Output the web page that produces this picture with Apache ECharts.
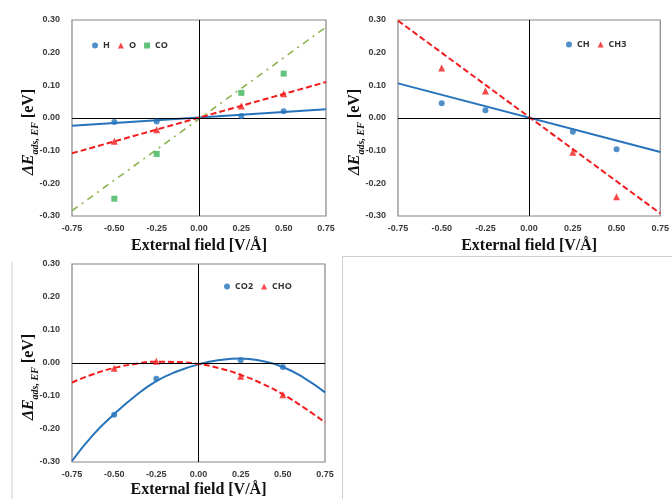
<!DOCTYPE html>
<html><head><meta charset="utf-8">
<script src="https://cdn.jsdelivr.net/npm/echarts@6/dist/echarts.min.js"></script>
<style>html,body{margin:0;padding:0;background:#fff}#c{width:672px;height:499px}</style>
</head><body><div id="c"></div>
<script>
// ---- data ----
const xPts = [-0.5, -0.25, 0.25, 0.5];
const xEnds = [-0.75, 0.75];
const yTicks = [-0.30, -0.20, -0.10, 0.00, 0.10, 0.20, 0.30];
const xTicks = [-0.75, -0.50, -0.25, 0.00, 0.25, 0.50, 0.75];
// panel 1
const H = [-0.012, -0.011, 0.006, 0.021];
const O = [-0.071, -0.036, 0.037, 0.074];
const CO = [-0.247, -0.110, 0.077, 0.136];
const H_fit = [-0.024, 0.027];
const O_fit = [-0.108, 0.110];
const CO_fit = [-0.284, 0.278];
// panel 2
const CH = [0.045, 0.024, -0.042, -0.096];
const CH3 = [0.153, 0.083, -0.105, -0.241];
const CH_fit = [0.106, -0.104];
const CH3_fit = [0.298, -0.292];
// panel 3
const CO2 = [-0.157, -0.048, 0.008, -0.012];
const CHO = [-0.016, 0.005, -0.040, -0.096];
const curveX = [-0.75, -0.625, -0.5, -0.375, -0.25, -0.125, 0, 0.125, 0.25, 0.375, 0.5, 0.625, 0.75];
const CO2_fit = [-0.297, -0.218, -0.155, -0.100, -0.055, -0.025, -0.004, 0.009, 0.014, 0.006, -0.012, -0.045, -0.089];
const CHO_fit = [-0.059, -0.034, -0.015, -0.003, 0.004, 0.003, -0.003, -0.016, -0.036, -0.062, -0.095, -0.135, -0.180];

const BLUE = '#2673bb', RED = '#f21c1c', GREEN = '#3cb35a', GLINE = '#8fb350';
const zip = (xs, ys) => xs.map((x, i) => [x, ys[i]]);

const grids = [
  {left: 72, top: 20, width: 254, height: 196},
  {left: 398, top: 20, width: 263, height: 196},
  {left: 72, top: 264, width: 253, height: 199}
];
const nameGapsX = [22, 22, 20];
const xAxes = grids.map((g, i) => ({
  type: 'value', gridIndex: i, min: -0.75, max: 0.75, interval: 0.25,
  axisLine: {show: false}, axisTick: {show: false}, splitLine: {show: false},
  axisLabel: {margin: 8, fontSize: 9, fontWeight: 'bold', color: '#3a3a3a', fontFamily: 'Liberation Sans',
    formatter: v => v.toFixed(2)},
  name: 'External field [V/Å]', nameLocation: 'middle', nameGap: nameGapsX[i], nameMoveOverlap: false,
  nameTextStyle: {fontFamily: 'Liberation Serif', fontWeight: 'bold', fontSize: 16, color: '#111', verticalAlign: 'top'}
}));
const yAxes = grids.map((g, i) => ({
  type: 'value', gridIndex: i, min: -0.3, max: 0.3, interval: 0.1,
  axisLine: {show: false}, axisTick: {show: false}, splitLine: {show: false},
  axisLabel: {margin: 12, fontSize: 9, fontWeight: 'bold', color: '#3a3a3a', fontFamily: 'Liberation Sans',
    formatter: v => v.toFixed(2)},
  name: '{a|ΔE}{b|ads, EF}{c| [eV]}', nameLocation: 'middle', nameGap: 32, nameRotate: 90, nameMoveOverlap: false,
  nameTextStyle: {
    padding: [0, 28, 0, 0],
    rich: {
      a: {fontFamily: 'Liberation Serif', fontStyle: 'italic', fontWeight: 'bold', fontSize: 16, color: '#111', lineHeight: 22, verticalAlign: 'middle'},
      b: {fontFamily: 'Liberation Serif', fontStyle: 'italic', fontWeight: 'bold', fontSize: 10, color: '#111', lineHeight: 22, verticalAlign: 'bottom'},
      c: {fontFamily: 'Liberation Serif', fontWeight: 'bold', fontSize: 16, color: '#111', lineHeight: 22, verticalAlign: 'middle'}
    }
  }
}));

const zeroMark = {
  silent: true, symbol: 'none', label: {show: false},
  lineStyle: {color: '#000', width: 1, type: 'solid'},
  data: [{xAxis: 0}, {yAxis: 0}]
};
function pts(name, data, idx, color, symbol, size) {
  return {name, type: 'scatter', xAxisIndex: idx, yAxisIndex: idx, data: zip(xPts, data),
    symbol, symbolSize: size, itemStyle: {color}, z: 5};
}
function fit(name, xs, data, idx, color, type, width, smooth, mark) {
  const s = {name, type: 'line', xAxisIndex: idx, yAxisIndex: idx, data: zip(xs, data),
    symbol: 'none', smooth: smooth, lineStyle: {color, type, width}, z: 3};
  if (mark) s.markLine = zeroMark;
  return s;
}
const series = [
  fit('H fit', xEnds, H_fit, 0, BLUE, 'solid', 2, false, true),
  fit('O fit', xEnds, O_fit, 0, RED, [6, 3], 2, false),
  fit('CO fit', xEnds, CO_fit, 0, GLINE, [7, 5, 2, 5], 1.6, false),
  pts('H', H, 0, BLUE, 'circle', 6),
  pts('O', O, 0, RED, 'triangle', 7),
  pts('CO', CO, 0, GREEN, 'rect', 6),
  fit('CH fit', xEnds, CH_fit, 1, BLUE, 'solid', 2, false, true),
  fit('CH3 fit', xEnds, CH3_fit, 1, RED, [6, 3], 2, false),
  pts('CH', CH, 1, BLUE, 'circle', 6),
  pts('CH3', CH3, 1, RED, 'triangle', 7),
  fit('CO2 fit', curveX, CO2_fit, 2, BLUE, 'solid', 2, true, true),
  fit('CHO fit', curveX, CHO_fit, 2, RED, [6, 3], 2, true),
  pts('CO2', CO2, 2, BLUE, 'circle', 6),
  pts('CHO', CHO, 2, RED, 'triangle', 7)
];
const legStyle = {fontSize: 9, fontWeight: 'bold', color: '#333', fontFamily: 'Open Sans'};
function leg(names, left, top) {
  return {data: names, left, top, orient: 'horizontal', itemWidth: 6, itemHeight: 6, itemGap: 8,
    textStyle: legStyle, selectedMode: false, padding: 0};
}
const chart = echarts.init(document.getElementById('c'), null, {renderer: 'canvas'});
chart.setOption({
  animation: false,
  backgroundColor: '#fff',
  grid: grids.map(g => Object.assign({show: true, borderColor: '#858585', borderWidth: 1.2, backgroundColor: 'transparent'}, g)),
  xAxis: xAxes, yAxis: yAxes, series,
  legend: [leg(['H', 'O', 'CO'], 92, 41), leg(['CH', 'CH3'], 566, 40), leg(['CO2', 'CHO'], 224, 282)],
  graphic: [
    {type: 'line', shape: {x1: 12, y1: 262, x2: 12, y2: 499}, style: {stroke: '#d0d0d0', lineWidth: 1}},
    {type: 'line', shape: {x1: 342.5, y1: 256, x2: 342.5, y2: 499}, style: {stroke: '#d0d0d0', lineWidth: 1}},
    {type: 'line', shape: {x1: 342, y1: 256.5, x2: 672, y2: 256.5}, style: {stroke: '#d0d0d0', lineWidth: 1}}
  ]
});
</script></body></html>
